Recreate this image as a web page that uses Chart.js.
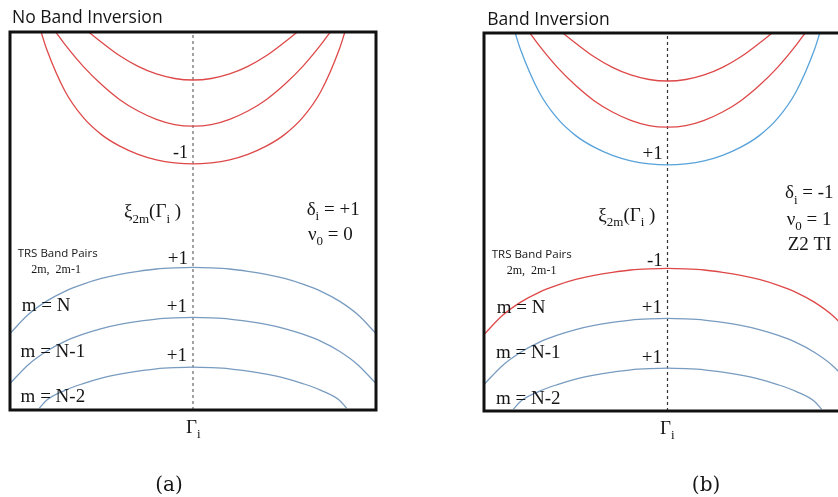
<!DOCTYPE html>
<html>
<head>
<meta charset="utf-8">
<script src="https://cdn.jsdelivr.net/npm/chart.js@4/dist/chart.umd.min.js"></script>
<style>
  html, body { margin: 0; padding: 0; background: #fff; }
  body { width: 838px; height: 497px; overflow: hidden; position: relative; }
  canvas { position: absolute; top: 0; }
  #panelA { left: 0; }
  #panelB { left: 419px; }
</style>
</head>
<body>
<canvas id="panelA" width="419" height="497"></canvas>
<canvas id="panelB" width="460" height="497"></canvas>
<script>
// crystal momentum k (Γ at 0, box edges at ±1), energy E (box 0..100)

// conduction bands (open upward)
const kUpInner = [-0.57, -0.5, -0.4, -0.3, -0.2, -0.1, 0, 0.1, 0.2, 0.3, 0.4, 0.5, 0.57];
const eUpInner = [100, 97.3, 93.7, 90.9, 88.9, 87.7, 87.3, 87.7, 88.9, 90.9, 93.7, 97.3, 100];

const kUpMid = [-0.75, -0.7, -0.6, -0.5, -0.4, -0.3, -0.2, -0.1, 0, 0.1, 0.2, 0.3, 0.4, 0.5, 0.6, 0.7, 0.75];
const eUpMid = [100, 96.7, 90.9, 86.1, 82.1, 79.1, 76.9, 75.5, 75.1, 75.5, 76.9, 79.1, 82.1, 86.1, 90.9, 96.7, 100];

const kUpOuter = [-0.83, -0.8, -0.7, -0.6, -0.5, -0.4, -0.3, -0.2, -0.1, 0, 0.1, 0.2, 0.3, 0.4, 0.5, 0.6, 0.7, 0.8, 0.83];
const eUpOuter = [100, 95.5, 84.4, 77.4, 72.85, 69.8, 67.65, 66.2, 65.4, 65.1, 65.4, 66.2, 67.65, 69.8, 72.85, 77.4, 84.4, 95.5, 100];

// valence bands (open downward)
const kDown = [-1.0, -0.9, -0.8, -0.7, -0.6, -0.5, -0.4, -0.3, -0.2, -0.1, 0, 0.1, 0.2, 0.3, 0.4, 0.5, 0.6, 0.7, 0.8, 0.9, 1.0];
const eDownTop = [20.25, 25.25, 28.8, 31.4, 33.3, 34.8, 35.9, 36.7, 37.3, 37.6, 37.75, 37.6, 37.3, 36.7, 35.9, 34.8, 33.3, 31.4, 28.8, 25.25, 20.25];
const eDownMid = [7.0, 12.0, 15.55, 18.15, 20.05, 21.55, 22.65, 23.45, 24.05, 24.35, 24.5, 24.35, 24.05, 23.45, 22.65, 21.55, 20.05, 18.15, 15.55, 12.0, 7.0];

const kDownLow = [-0.84, -0.8, -0.7, -0.6, -0.5, -0.4, -0.3, -0.2, -0.1, 0, 0.1, 0.2, 0.3, 0.4, 0.5, 0.6, 0.7, 0.8, 0.84];
const eDownLow = [0.5, 2.6, 5.2, 7.0, 8.45, 9.5, 10.3, 10.9, 11.2, 11.35, 11.2, 10.9, 10.3, 9.5, 8.45, 7.0, 5.2, 2.6, 0.5];

// Γ line
const kGamma = [0, 0];
const eGamma = [0, 100];

const RED = 'rgb(222, 72, 72)';
const STEEL = 'rgb(120, 155, 192)';
const SKY = 'rgb(88, 162, 218)';

const SERIF = '"Liberation Serif", "Times New Roman", serif';
const SANS = '"Open Sans", "Noto Sans", sans-serif';

function zip(ks, es) {
    return ks.map((k, i) => ({ x: k, y: es[i] }));
}

function band(ks, es, color) {
    return {
        data: zip(ks, es),
        showLine: true,
        borderColor: color,
        borderWidth: 1.3,
        pointRadius: 0,
        cubicInterpolationMode: 'monotone',
        clip: 0
    };
}

// text with _{...} subscripts, drawn on the canvas
function drawRich(ctx, str, x, y, size, family, align) {
    const parts = [];
    const re = /_\{([^}]*)\}/g;
    let last = 0, m;
    while ((m = re.exec(str)) !== null) {
        if (m.index > last) parts.push({ t: str.slice(last, m.index), sub: false });
        parts.push({ t: m[1], sub: true });
        last = re.lastIndex;
    }
    if (last < str.length) parts.push({ t: str.slice(last), sub: false });

    const subSize = Math.round(size * 0.68);
    let width = 0;
    parts.forEach(p => {
        ctx.font = (p.sub ? subSize : size) + 'px ' + family;
        p.w = ctx.measureText(p.t).width;
        width += p.w;
    });
    let cx = x;
    if (align === 'right') cx = x - width;
    if (align === 'center') cx = x - width / 2;
    ctx.textAlign = 'left';
    ctx.textBaseline = 'alphabetic';
    parts.forEach(p => {
        ctx.font = (p.sub ? subSize : size) + 'px ' + family;
        ctx.fillText(p.t, cx, p.sub ? y + size * 0.28 : y);
        cx += p.w;
    });
}

const panelDecor = {
    id: 'panelDecor',
    afterDraw(chart) {
        const { ctx, chartArea, scales } = chart;
        const opts = chart.options.plugins.panelDecor;
        ctx.save();
        ctx.strokeStyle = '#111';
        ctx.lineWidth = 3;
        ctx.strokeRect(chartArea.left, chartArea.top,
            chartArea.right - chartArea.left, chartArea.bottom - chartArea.top);
        ctx.fillStyle = '#151515';
        opts.labels.forEach(l => {
            const px = scales.x.getPixelForValue(l.k);
            const py = scales.y.getPixelForValue(l.e);
            const fam = l.sans ? SANS : (l.family || SERIF);
            drawRich(ctx, l.text, px, py, l.size, fam, l.align || 'left');
        });
        ctx.restore();
    }
};

function makePanel(id, datasets, labels, padding) {
    return new Chart(document.getElementById(id), {
        type: 'scatter',
        data: { datasets: datasets },
        options: {
            responsive: false,
            animation: false,
            layout: { padding: padding },
            scales: {
                x: { type: 'linear', min: -1, max: 1, display: false },
                y: { type: 'linear', min: 0, max: 100, display: false }
            },
            plugins: {
                legend: { display: false },
                tooltip: { enabled: false },
                panelDecor: { labels: labels }
            }
        },
        plugins: [panelDecor]
    });
}

const gammaLine = color => ({
    data: zip(kGamma, eGamma),
    showLine: true,
    borderColor: color,
    borderWidth: 1.2,
    borderDash: [3, 3],
    pointRadius: 0,
    clip: 0
});

const labelsA = [
    { text: 'No Band Inversion', k: -0.989, e: 102.4, size: 17.5, sans: true },
    { text: '-1', k: -0.027, e: 66.7, size: 18, align: 'right' },
    { text: 'ξ_{2m}(Γ_{i} )', k: -0.377, e: 51.0, size: 19 },
    { text: 'δ_{i} = +1', k: 0.621, e: 51.6, size: 19 },
    { text: 'ν_{0} = 0', k: 0.628, e: 45.0, size: 19 },
    { text: 'TRS Band Pairs', k: -0.958, e: 40.6, size: 11.5, sans: true },
    { text: '2m,  2m-1', k: -0.884, e: 36.2, size: 12 },
    { text: '+1', k: -0.027, e: 38.6, size: 19, align: 'right' },
    { text: '+1', k: -0.033, e: 25.9, size: 19, align: 'right' },
    { text: '+1', k: -0.033, e: 13.0, size: 19, align: 'right' },
    { text: 'm = N', k: -0.936, e: 26.1, size: 19 },
    { text: 'm = N-1', k: -0.942, e: 14.0, size: 19 },
    { text: 'm = N-2', k: -0.942, e: 2.0, size: 19 },
    { text: 'Γ_{i}', k: -0.038, e: -6.1, size: 19 },
    { text: '(a)', k: -0.131, e: -21.4, size: 20, family: '"DejaVu Serif", serif', align: 'center' }
];

const labelsB = [
    { text: 'Band Inversion', k: -0.982, e: 102.2, size: 17.5, sans: true },
    { text: '+1', k: -0.026, e: 66.7, size: 19, align: 'right' },
    { text: 'ξ_{2m}(Γ_{i} )', k: -0.377, e: 50.3, size: 19 },
    { text: 'δ_{i} = -1', k: 0.640, e: 56.3, size: 19 },
    { text: 'ν_{0} = 1', k: 0.650, e: 49.2, size: 19 },
    { text: 'Z2 TI', k: 0.655, e: 42.6, size: 19 },
    { text: 'TRS Band Pairs', k: -0.958, e: 40.4, size: 11.5, sans: true },
    { text: '2m,  2m-1', k: -0.876, e: 36.2, size: 12 },
    { text: '-1', k: -0.026, e: 38.4, size: 19, align: 'right' },
    { text: '+1', k: -0.030, e: 26.0, size: 19, align: 'right' },
    { text: '+1', k: -0.030, e: 12.8, size: 19, align: 'right' },
    { text: 'm = N', k: -0.931, e: 26.0, size: 19 },
    { text: 'm = N-1', k: -0.935, e: 13.9, size: 19 },
    { text: 'm = N-2', k: -0.935, e: 1.8, size: 19 },
    { text: 'Γ_{i}', k: -0.041, e: -6.1, size: 19 },
    { text: '(b)', k: 0.21, e: -21.2, size: 20, family: '"DejaVu Serif", serif', align: 'center' }
];

// (a) no band inversion
makePanel('panelA', [
    band(kUpInner, eUpInner, RED),
    band(kUpMid, eUpMid, RED),
    band(kUpOuter, eUpOuter, RED),
    band(kDown, eDownTop, STEEL),
    band(kDown, eDownMid, STEEL),
    band(kDownLow, eDownLow, STEEL),
    gammaLine('#666')
], labelsA, { left: 10, top: 32, right: 43, bottom: 87 });

// (b) band inversion: lowest conduction and highest valence swap
makePanel('panelB', [
    band(kUpInner, eUpInner, RED),
    band(kUpMid, eUpMid, RED),
    band(kUpOuter, eUpOuter, SKY),
    band(kDown, eDownTop, RED),
    band(kDown, eDownMid, STEEL),
    band(kDownLow, eDownLow, STEEL),
    gammaLine('#333')
], labelsB, { left: 65, top: 33, right: 28, bottom: 86 });
</script>
</body>
</html>
